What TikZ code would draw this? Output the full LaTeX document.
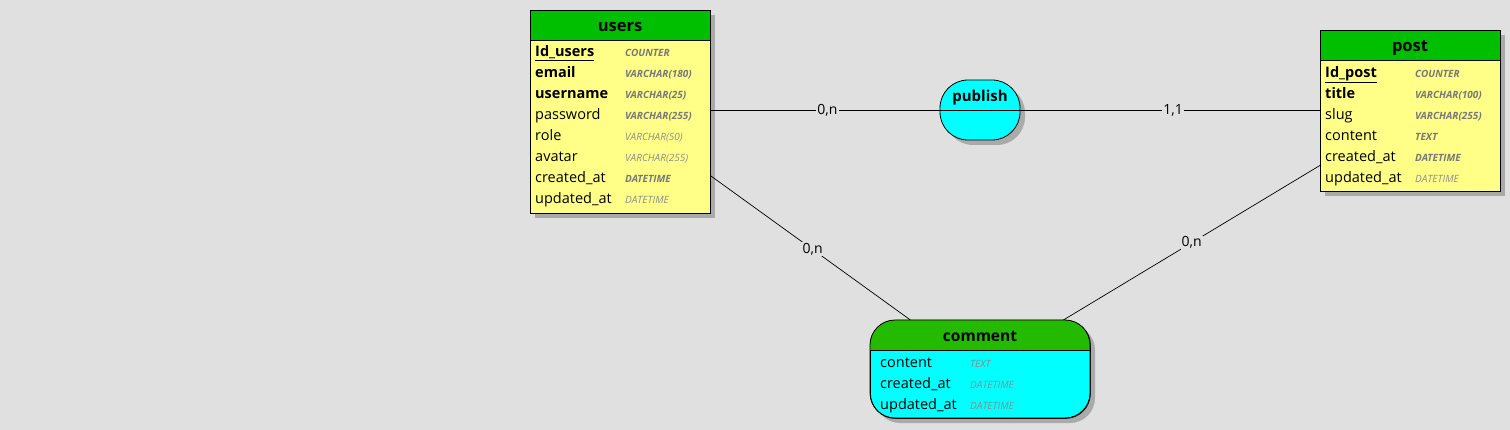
\documentclass[tikz,border=0pt]{standalone}
\usepackage{fontspec}
\setmainfont{Open Sans}
\usetikzlibrary{backgrounds}
\definecolor{bg}{RGB}{224,224,224}
\definecolor{hdr}{RGB}{0,190,0}
\definecolor{hdrb}{RGB}{36,186,0}
\definecolor{ent}{RGB}{255,255,136}
\definecolor{cy}{RGB}{0,255,255}
\definecolor{typd}{RGB}{120,120,120}
\definecolor{typl}{RGB}{140,140,140}
\definecolor{shd}{RGB}{170,170,170}
\tikzset{
  box/.style={draw=black, fill=ent, anchor=north west, inner sep=0pt, line width=0.8pt},
  hdrbox/.style={draw=black, fill=hdr, anchor=north west, inner sep=0pt, line width=0.8pt, minimum height=30pt},
  hdrtxt/.style={anchor=base, inner sep=0pt, font=\fontsize{16.5}{18}\selectfont\bfseries},
  fld/.style={anchor=base west, inner sep=0pt, font=\fontsize{14.5}{17}\selectfont},
  keyfld/.style={anchor=base west, inner sep=0pt, font=\fontsize{14.5}{17}\selectfont\bfseries},
  typ/.style={anchor=base west, inner sep=0pt, text=typd, font=\fontsize{10}{11}\selectfont\bfseries\itshape},
  typlt/.style={anchor=base west, inner sep=0pt, text=typl, font=\fontsize{10}{11}\selectfont\itshape},
  card/.style={fill=bg, inner sep=1pt, font=\fontsize{14}{16}\selectfont},
  link/.style={draw=black, line width=0.7pt},
  shadowbox/.style={fill=shd}
}
\begin{document}
\begin{tikzpicture}[x=1pt, y=-1pt]
\begin{pgfonlayer}{background}
  \fill[bg] (0,0) rectangle (1510,430);
  \useasboundingbox (0,0) rectangle (1510,430);
  % shadows
  \fill[shadowbox] (535,15) rectangle (715,218);
  \fill[shadowbox] (1325,35) rectangle (1505,196);
  \fill[shadowbox, rounded corners=25pt] (875,325) rectangle (1095,423);
  \fill[shadowbox, rounded corners=28pt] (945,85) rectangle (1025,145);
\end{pgfonlayer}

% users entity
\node[box, minimum width=180pt, minimum height=203pt] (users) at (530,10) {};
\node[hdrbox, minimum width=180pt] (usersh) at (530,10) {};
\node[hdrtxt] (usersn) at (620,31.5) {users};
\node[keyfld] (u1) at (535,56.5) {\underline{Id\_users}};
\node[keyfld] (u2) at (535,77.5) {email};
\node[keyfld] (u3) at (535,98.5) {username};
\node[fld] (u4) at (535,119.5) {password};
\node[fld] (u5) at (535,140.5) {role};
\node[fld] (u6) at (535,161.5) {avatar};
\node[fld] (u7) at (535,182.5) {created\_at};
\node[fld] (u8) at (535,203.5) {updated\_at};
\node[typ] (ut1) at (625,56.5) {COUNTER};
\node[typ] (ut2) at (625,77.5) {VARCHAR(180)};
\node[typ] (ut3) at (625,98.5) {VARCHAR(25)};
\node[typ] (ut4) at (625,119.5) {VARCHAR(255)};
\node[typlt] (ut5) at (625,140.5) {VARCHAR(50)};
\node[typlt] (ut6) at (625,161.5) {VARCHAR(255)};
\node[typ] (ut7) at (625,182.5) {DATETIME};
\node[typlt] (ut8) at (625,203.5) {DATETIME};

% post entity
\node[box, minimum width=180pt, minimum height=161pt] (post) at (1320,30) {};
\node[hdrbox, minimum width=180pt] (posth) at (1320,30) {};
\node[hdrtxt] (postn) at (1410,51.5) {post};
\node[keyfld] (p1) at (1325,77.5) {\underline{Id\_post}};
\node[keyfld] (p2) at (1325,98.5) {title};
\node[fld] (p3) at (1325,119.5) {slug};
\node[fld] (p4) at (1325,140.5) {content};
\node[fld] (p5) at (1325,161.5) {created\_at};
\node[fld] (p6) at (1325,182.5) {updated\_at};
\node[typ] (pt1) at (1415,77.5) {COUNTER};
\node[typ] (pt2) at (1415,98.5) {VARCHAR(100)};
\node[typ] (pt3) at (1415,119.5) {VARCHAR(255)};
\node[typ] (pt4) at (1415,140.5) {TEXT};
\node[typ] (pt5) at (1415,161.5) {DATETIME};
\node[typlt] (pt6) at (1415,182.5) {DATETIME};

% publish association
\node[draw=black, fill=cy, line width=0.8pt, rounded corners=28pt, minimum width=80pt, minimum height=60pt, inner sep=0pt] (publish) at (980,110) {};
\draw[line width=0.8pt] (publish.west) -- (publish.east);
\node[hdrtxt, font=\fontsize{15}{17}\selectfont\bfseries] (publishn) at (980,102) {publish};

% comment association
\node[draw=black, fill=cy, line width=0.8pt, rounded corners=25pt, minimum width=220pt, minimum height=98pt, inner sep=0pt, anchor=north west] (comment) at (870,320) {};
\begin{scope}
  \clip[rounded corners=25pt] (870,320) rectangle (1090,418);
  \fill[hdrb] (870,320) rectangle (1090,350);
\end{scope}
\draw[line width=0.8pt, rounded corners=25pt] (870,320) rectangle (1090,418);
\draw[line width=0.8pt] (870,350) -- (1090,350);
\node[hdrtxt, font=\fontsize{15.5}{17}\selectfont\bfseries] (commentn) at (980,341.5) {comment};
\node[fld] (c1) at (880,367.5) {content};
\node[fld] (c2) at (880,388.5) {created\_at};
\node[fld] (c3) at (880,409.5) {updated\_at};
\node[typlt] (ct1) at (970,367.5) {TEXT};
\node[typlt] (ct2) at (970,388.5) {DATETIME};
\node[typlt] (ct3) at (970,409.5) {DATETIME};

% connectors
\begin{pgfonlayer}{background}
  \draw[link] (users.east |- publish.center) -- node[card, pos=0.51] {0,n} (publish.west);
  \draw[link] (publish.east) -- node[card, pos=0.51] {1,1} (post.west |- publish.center);
  \draw[link] ([yshift=-64pt]users.east) -- node[card, pos=0.51] {0,n} ([xshift=-70pt]comment.north);
  \draw[link] ([yshift=-54.5pt]post.west) -- node[card, pos=0.5] {0,n} ([xshift=83pt]comment.north);
\end{pgfonlayer}
\end{tikzpicture}
\end{document}
